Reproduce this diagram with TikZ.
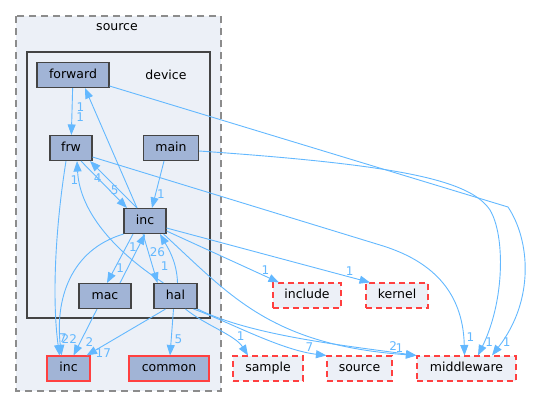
\documentclass[tikz,border=0pt]{standalone}
\usepackage{fontspec}
\setmainfont{DejaVu Sans}
\usepackage{xcolor}
\usetikzlibrary{arrows.meta}
\definecolor{dirfill}{RGB}{161,180,214}
\definecolor{clusterfill}{RGB}{236,240,247}
\definecolor{depblue}{RGB}{99,184,255}
\definecolor{dirline}{RGB}{68,68,68}
\definecolor{extred}{RGB}{255,64,64}

\begin{document}
\begin{tikzpicture}[x=1pt,y=-1pt,
  dirnode/.style={draw=dirline,fill=dirfill,line width=1.1pt,minimum height=25pt,inner sep=0pt,
    text height=9.5pt,text depth=2.8pt,font=\fontsize{12.5}{14}\selectfont},
  redbox/.style={dirnode,draw=extred},
  extnode/.style={dirnode,draw=extred,fill=clusterfill,dash pattern=on 6pt off 4pt},
  dep/.style={draw=depblue,line width=0.9pt,-{Triangle[length=10.5pt,width=8pt]}},
  num/.style={text=depblue,font=\fontsize{12}{14}\selectfont,inner sep=1pt}]
\useasboundingbox (0,0) rectangle (534,408);
% clusters
\draw[draw=black!45,fill=clusterfill,line width=1.2pt,dash pattern=on 7pt off 5pt] (16,16) rectangle (221,391);
\draw[draw=dirline,fill=clusterfill,line width=2.5pt] (27,52) rectangle (210,318);
\node[font=\fontsize{12.5}{14}\selectfont] (srclabel) at (117,27) {source};
\node[font=\fontsize{12.5}{14}\selectfont] (devlabel) at (166,75) {device};

% directories
\node[dirnode,minimum width=72pt] (fwd) at (73,75) {forward};
\node[dirnode,minimum width=42pt] (frw) at (71,148) {frw};
\node[dirnode,minimum width=55pt] (main) at (171,148) {main};
\node[dirnode,minimum width=42pt] (inc) at (145,221) {inc};
\node[dirnode,minimum width=52pt] (mac) at (105,296) {mac};
\node[dirnode,minimum width=43pt] (hal) at (175.5,296) {hal};
\node[redbox,minimum width=43pt] (incb) at (68.5,368.5) {inc};
\node[redbox,minimum width=80pt] (common) at (169,368.5) {common};
\node[extnode,minimum width=68pt] (include) at (307,295.5) {include};
\node[extnode,minimum width=62pt] (kernel) at (397,295.5) {kernel};
\node[extnode,minimum width=70pt] (sample) at (268,368.5) {sample};
\node[extnode,minimum width=65pt] (source) at (359.5,368.5) {source};
\node[extnode,minimum width=99pt] (mw) at (466.5,368.5) {middleware};

% dependencies
\draw[dep] (fwd) -- (frw) node[num,pos=0.4,right=3pt] {1} node[num,pos=0.62,right=3pt] {1};
\draw[dep] ([xshift=-8pt]inc.north) -- ([xshift=12pt]fwd.south);
\draw[dep] ([xshift=10pt]frw.south) -- ([xshift=-18pt]inc.north) node[num,pos=0.62,right] {5};
\draw[dep] ([xshift=-8pt]inc.north) -- ([xshift=19pt]frw.south) node[num,pos=0.64,left=4pt] {4};
\draw[dep] ([xshift=-12pt]hal.north) .. controls (120,255) and (80,215) .. ([xshift=6pt]frw.south) node[num,pos=0.88,left] {1};
\draw[dep] ([xshift=-7pt]main.south) -- ([xshift=7pt]inc.north) node[num,pos=0.7,right] {1};
\draw[dep] ([xshift=-12pt]inc.south) -- ([xshift=2pt]mac.north) node[num,pos=0.7,right] {1};
\draw[dep] ([xshift=15pt]mac.north) -- (inc.south) node[num,pos=0.73,left] {1};
\draw[dep] ([xshift=-2pt]inc.south) -- ([xshift=-18pt]hal.north) node[num,pos=0.37,right] {26};
\draw[dep] ([xshift=2pt]hal.north) .. controls (177,262) and (168,248) .. ([xshift=15pt]inc.south) node[num,pos=0.3,left=5pt] {1};
\draw[dep] (inc.south west) .. controls (70,250) and (55,300) .. ([xshift=-7pt]incb.north) node[num,pos=0.9,right] {22};
\draw[dep] ([xshift=-5pt]frw.south) .. controls (55,230) and (52,300) .. ([xshift=-9pt]incb.north) node[num,pos=0.9,right] {7};
\draw[dep] ([xshift=-8pt]mac.south) -- ([xshift=5pt]incb.north) node[num,pos=0.72,right=4pt] {2};
\draw[dep] ([xshift=-10pt]hal.south) -- ([xshift=-4pt]incb.north east) node[num,pos=0.94,right=3pt] {17};
\draw[dep] ([xshift=-2pt]hal.south) -- ([xshift=1pt]common.north) node[num,pos=0.64,right=2pt] {5};
\draw[dep] ([xshift=10pt]hal.south) .. controls (205,325) and (235,335) .. ([xshift=-20pt]sample.north) node[num,pos=0.75,above right=0pt] {1};
\draw[dep] ([xshift=-4pt]hal.south east) .. controls (225,320) and (280,350) .. (source.north west) node[num,pos=0.88,above] {7};
\draw[dep] (hal.south east) .. controls (250,335) and (340,345) .. (mw.north west) node[num,pos=0.9,above] {2};
\draw[dep] ([xshift=-3pt]inc.south east) .. controls (230,295) and (270,345) .. (mw.north west) node[num,pos=0.96,above] {1};
\draw[dep] ([yshift=-10pt]inc.east) -- ([xshift=-28pt]include.north) node[num,pos=0.88,above] {1};
\draw[dep] ([yshift=-7pt]inc.east) -- ([xshift=-27pt]kernel.north) node[num,pos=0.9,above] {1};
\draw[dep] ([yshift=-9pt]frw.east) -- (380,245) .. controls (430,260) and (463,290) .. ([xshift=-2pt]mw.north) node[num,pos=0.9,right=2pt] {1};
\draw[dep] ([yshift=-3pt]main.east) .. controls (400,165) and (470,180) .. (490,210) .. controls (505,235) and (505,300) .. ([xshift=11.5pt]mw.north) node[num,pos=0.92,right] {1};
\draw[dep] ([yshift=-11pt]fwd.east) -- (508,207) .. controls (530,240) and (535,300) .. ([xshift=25.5pt]mw.north) node[num,pos=0.92,right] {1};
\end{tikzpicture}
\end{document}
